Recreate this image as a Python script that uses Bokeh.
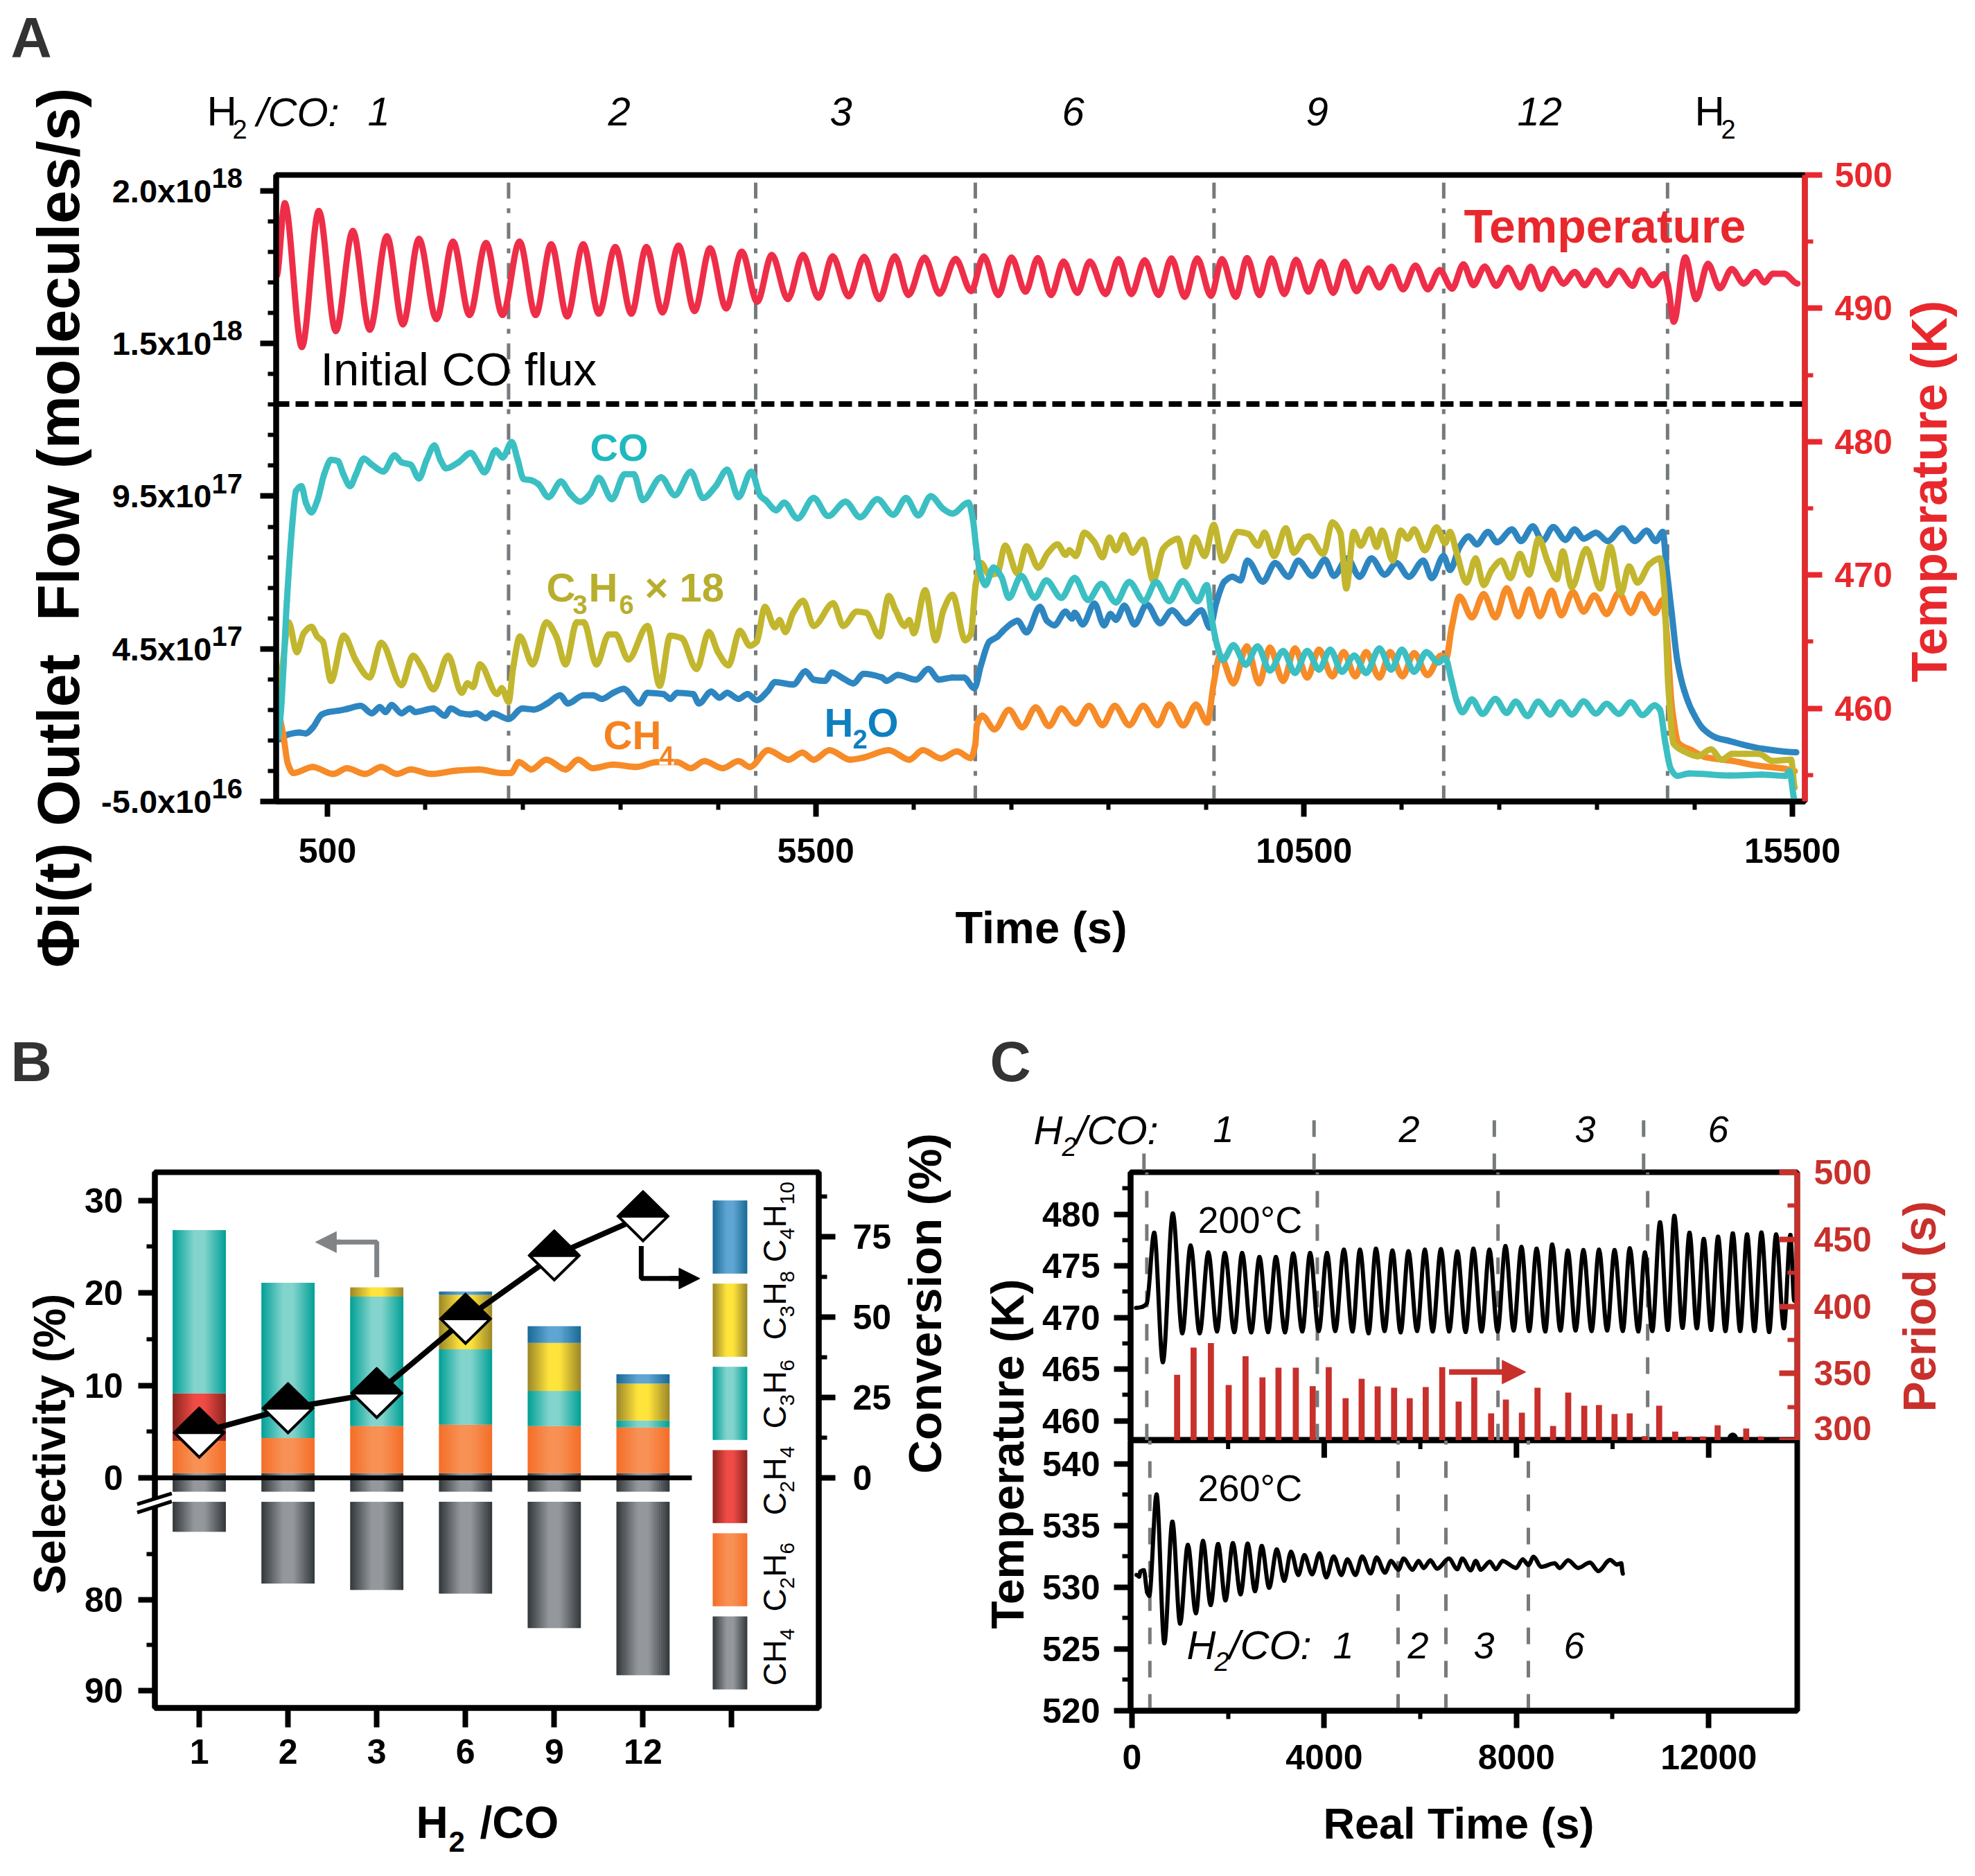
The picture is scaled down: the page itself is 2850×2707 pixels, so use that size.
import math
import numpy as np
from bokeh.embed import file_html
from bokeh.layouts import column, row
from bokeh.models import Arrow, FixedTicker, Label, LinearAxis, NormalHead, Range1d
from bokeh.plotting import figure
from bokeh.resources import INLINE

FONT = "Liberation Sans"
NARROW = "Liberation Sans Narrow, Liberation Sans"
BLACK = "#000000"
GRAY = "#767a7c"

# ---------- panel A data: time in s, temperature in K, flow in 1e17 molecules/s
temp_time = [-21,63,238,412,586,760,934,1109,1273,1437,1616,1786,1955,2124,2293,2467,2632,2791,2955,3119,3279,3448,3612,3766,3931,4095,4259,4418,4583,4742,4901,5050,5215,5369,5528,5673,5837,5996,6150,6310,6449,6613,6767,6932,7091,7220,7370,7504,7648,7774,7910,8037,8179,8306,8468,8600,8732,8868,9010,9142,9279,9406,9547,9659,9801,9917,10044,10166,10298,10419,10546,10673,10799,10916,11037,11159,11271,11397,11514,11641,11767,11889,12016,12132,12234,12350,12467,12588,12715,12821,12928,13044,13156,13272,13374,13485,13602,13723,13865,13946,14068,14185,14225,14286,14403,14514,14636,14757,14879,15001,15122,15214,15300,15416,15553]
temp_k = [492.4,497.88,487.1,497.3,488.3,495.8,488.4,495.4,488.8,495.2,489.2,495.0,489.5,494.9,489.5,495.0,489.5,494.8,489.4,494.8,489.6,494.6,489.6,494.6,489.7,494.7,489.8,494.5,490.0,494.25,490.5,494.0,490.7,494.0,490.8,493.9,490.9,493.85,490.7,493.9,491.0,493.8,491.1,493.7,491.3,493.9,491.0,493.8,491.25,493.77,491.0,493.5,491.17,493.5,491.08,493.68,491.08,493.6,491.0,493.74,490.87,493.74,490.94,493.68,490.87,493.77,491.0,493.74,491.08,493.63,491.25,493.48,491.17,493.48,491.29,492.99,491.57,493.11,491.43,493.2,491.43,492.87,491.48,493.3,491.74,493.13,491.7,493.04,491.57,493.11,491.46,492.95,491.86,492.73,491.74,492.82,491.74,492.82,491.69,492.85,491.74,492.56,491.77,489.0,493.82,490.7,493.34,491.51,492.95,491.86,492.73,491.95,492.6,492.6,491.86]

co_points = [(-9,1.6),(24,2.47),(85,6.07),(140,8.57),(178,9.67),(234,9.83),(280,9.28),(336,8.97),(397,9.36),(467,10.22),(537,10.69),(607,10.65),(663,10.22),(733,9.83),(793,10.22),(872,10.73),(956,10.53),(1073,10.31),(1189,10.84),(1259,10.61),(1353,10.53),(1437,10.08),(1516,10.69),(1595,11.16),(1656,10.69),(1716,10.41),(1842,10.61),(1968,10.92),(2038,10.61),(2108,10.28),(2224,11.0),(2294,10.77),(2388,11.27),(2448,10.69),(2509,10.06),(2588,10.02),(2658,9.9),(2765,9.47),(2891,9.98),(2984,9.59),(3087,9.32),(3194,9.59),(3278,10.1),(3413,9.4),(3544,10.22),(3637,10.22),(3730,9.37),(3917,10.12),(4057,9.53),(4220,10.3),(4346,9.44),(4476,9.83),(4593,10.37),(4709,9.47),(4840,10.3),(4933,9.51),(4989,9.36),(5096,9.04),(5175,9.29),(5315,8.77),(5478,9.44),(5628,8.85),(5805,9.32),(5954,8.81),(6131,9.4),(6294,8.89),(6425,9.44),(6551,8.87),(6677,9.5),(6807,9.08),(6900,8.93),(7064,9.29),(7110,8.73),(7139,7.92),(7183,7.0),(7237,6.59),(7319,7.16),(7401,6.86),(7478,6.17),(7604,6.89),(7741,6.17),(7861,6.74),(8015,6.17),(8151,6.82),(8288,6.1),(8425,6.63),(8573,6.02),(8710,6.69),(8863,6.06),(8984,6.69),(9120,6.06),(9257,6.72),(9410,6.06),(9504,6.59),(9558,5.42),(9613,4.58),(9668,4.13),(9777,4.62),(9903,3.98),(10024,4.58),(10150,3.79),(10286,4.43),(10407,3.71),(10533,4.43),(10653,3.82),(10768,4.47),(10888,3.75),(11014,4.28),(11135,3.71),(11272,4.51),(11392,3.82),(11502,4.47),(11627,3.75),(11753,4.39),(11874,4.05),(11945,4.2),(12011,3.45),(12065,2.77),(12120,2.42),(12219,2.84),(12328,2.37),(12459,2.86),(12575,2.4),(12667,2.77),(12788,2.3),(12897,2.77),(13023,2.35),(13122,2.75),(13242,2.35),(13363,2.78),(13488,2.38),(13598,2.7),(13724,2.37),(13845,2.75),(13965,2.33),(14091,2.65),(14145,2.5),(14200,1.4),(14255,0.57),(14321,0.34),(14447,0.42),(14857,0.35),(15186,0.38),(15432,0.34),(15470,0.49),(15525,-0.46)]

c3h6_points = [(1,2.98),(38,3.88),(103,5.37),(187,4.39),(257,5.01),(336,5.22),(397,4.9),(453,4.74),(537,3.45),(667,4.93),(793,4.11),(933,3.56),(1050,4.7),(1259,3.31),(1376,4.27),(1469,3.88),(1586,3.17),(1735,4.27),(1875,3.06),(1935,3.37),(1991,3.25),(2061,3.99),(2238,3.02),(2285,3.21),(2355,2.76),(2402,3.88),(2471,4.9),(2602,3.99),(2742,5.37),(2844,4.9),(2938,3.99),(3054,5.37),(3124,5.37),(3255,3.99),(3381,4.97),(3451,4.97),(3581,4.15),(3777,5.25),(3903,3.29),(4010,4.93),(4126,4.85),(4280,3.84),(4406,5.05),(4499,4.39),(4607,3.96),(4723,5.09),(4826,4.6),(4896,4.74),(4980,5.87),(5082,5.21),(5129,5.44),(5189,5.05),(5269,5.68),(5371,6.07),(5479,5.25),(5679,5.99),(5782,5.25),(5921,5.72),(6015,5.68),(6154,4.91),(6248,6.23),(6318,5.76),(6411,5.25),(6457,5.44),(6504,5.01),(6621,6.42),(6728,4.78),(6807,5.76),(6900,6.27),(7031,4.78),(7087,4.97),(7139,6.63),(7193,7.31),(7276,6.93),(7358,6.97),(7440,7.88),(7566,6.97),(7659,7.86),(7779,7.16),(7878,7.65),(7976,7.92),(8058,7.58),(8097,7.73),(8162,7.54),(8250,8.3),(8354,7.99),(8436,7.5),(8507,8.14),(8573,7.73),(8655,8.22),(8743,7.65),(8852,8.07),(8956,6.74),(9055,7.77),(9126,7.99),(9208,8.11),(9290,7.2),(9383,8.14),(9482,7.54),(9575,8.56),(9668,7.39),(9821,8.33),(9930,8.26),(10029,7.88),(10095,8.3),(10193,7.54),(10314,8.45),(10396,7.65),(10505,8.14),(10549,8.18),(10697,7.61),(10790,8.64),(10872,8.3),(10932,6.48),(11009,8.33),(11080,7.88),(11173,8.41),(11244,7.84),(11299,8.37),(11408,7.39),(11490,8.37),(11561,8.11),(11627,8.41),(11737,7.73),(11857,8.48),(11945,7.96),(11994,8.33),(12065,7.61),(12164,6.67),(12257,7.46),(12339,6.59),(12421,7.08),(12520,7.39),(12613,6.82),(12711,7.61),(12804,6.93),(12903,8.11),(12996,7.35),(13088,6.78),(13149,7.69),(13242,6.52),(13390,7.77),(13532,6.48),(13636,7.84),(13746,6.33),(13828,7.2),(13915,6.67),(14036,7.27),(14145,7.46),(14189,6.4),(14228,3.37),(14283,1.4),(14392,1.14),(14529,0.98),(14666,1.21),(14775,0.87),(14884,1.06),(15021,1.06),(15158,1.06),(15295,0.83),(15487,0.87),(15525,-0.04)]

h2o_points = [(1,1.53),(94,1.69),(210,1.76),(280,1.73),(350,1.92),(443,2.35),(513,2.43),(607,2.47),(700,2.53),(840,2.63),(956,2.39),(1036,2.59),(1096,2.43),(1157,2.66),(1259,2.39),(1343,2.55),(1399,2.43),(1586,2.55),(1702,2.31),(1763,2.55),(1865,2.39),(1959,2.35),(2029,2.39),(2122,2.23),(2192,2.39),(2355,2.2),(2495,2.55),(2611,2.51),(2751,2.71),(2882,2.98),(2961,2.71),(3124,2.98),(3217,2.98),(3311,2.86),(3427,3.06),(3534,3.19),(3693,2.71),(3777,3.06),(3940,3.02),(4010,2.86),(4080,3.06),(4243,3.02),(4304,2.71),(4430,3.1),(4513,2.9),(4593,3.06),(4709,2.86),(4802,3.02),(4896,2.82),(5012,3.13),(5082,3.41),(5269,3.33),(5395,3.76),(5479,3.49),(5595,3.45),(5665,3.72),(5782,3.53),(5884,3.37),(5991,3.68),(6178,3.56),(6225,3.45),(6341,3.64),(6527,3.49),(6653,3.84),(6761,3.49),(6900,3.56),(7017,3.56),(7124,3.21),(7193,3.98),(7276,4.73),(7358,4.89),(7412,5.07),(7511,5.34),(7566,5.42),(7659,5.04),(7796,5.87),(7867,5.42),(7943,5.27),(8058,5.72),(8124,5.49),(8151,5.68),(8234,5.3),(8354,5.98),(8452,5.27),(8518,5.64),(8573,5.45),(8660,5.91),(8764,5.3),(8890,5.95),(9027,5.34),(9148,5.76),(9290,5.34),(9449,5.76),(9536,5.19),(9602,6.02),(9684,6.7),(9766,6.86),(9848,6.74),(9920,7.39),(10078,6.7),(10204,7.31),(10341,6.86),(10440,7.39),(10587,6.89),(10713,7.42),(10806,6.89),(10943,7.46),(11069,6.86),(11190,7.46),(11326,6.93),(11447,7.31),(11573,6.86),(11721,7.39),(11808,6.82),(11928,7.54),(11994,7.08),(12093,7.84),(12186,8.18),(12268,7.92),(12383,8.33),(12476,7.99),(12629,8.41),(12722,8.03),(12843,8.51),(12941,8.03),(13051,8.49),(13177,8.07),(13270,8.41),(13363,8.11),(13489,8.3),(13609,8.03),(13762,8.45),(13888,8.03),(14008,8.37),(14102,8.03),(14173,8.33),(14211,7.16),(14266,5.64),(14321,4.13),(14392,3.14),(14474,2.46),(14584,1.89),(14721,1.59),(14857,1.48),(15048,1.32),(15186,1.23),(15541,1.11)]

ch4_points = [(-9,2.39),(47,1.69),(94,0.75),(150,0.43),(350,0.63),(560,0.4),(700,0.59),(886,0.4),(1050,0.63),(1213,0.4),(1353,0.55),(1562,0.4),(1819,0.51),(2052,0.55),(2285,0.43),(2378,0.43),(2462,0.79),(2588,0.55),(2742,0.87),(2938,0.55),(3068,0.87),(3217,0.59),(3427,0.71),(3660,0.63),(3870,0.79),(4080,0.79),(4220,0.59),(4360,0.82),(4546,0.59),(4709,0.82),(4826,0.63),(5012,1.18),(5222,0.87),(5362,1.1),(5479,0.87),(5642,1.18),(5851,0.87),(5991,0.94),(6248,1.18),(6457,0.87),(6597,1.18),(6784,0.91),(6947,1.14),(7087,0.92),(7134,1.37),(7150,2.0),(7204,2.31),(7330,1.86),(7478,2.5),(7615,1.93),(7752,2.58),(7889,1.97),(8015,2.55),(8162,2.05),(8299,2.63),(8436,2.0),(8562,2.63),(8710,2.0),(8852,2.63),(9000,2.0),(9120,2.67),(9263,1.99),(9394,2.67),(9509,2.08),(9575,3.37),(9640,4.28),(9777,3.37),(9914,4.58),(10040,3.37),(10150,4.54),(10286,3.45),(10407,4.51),(10533,3.56),(10653,4.47),(10790,3.6),(10905,4.39),(11025,3.6),(11135,4.39),(11272,3.56),(11381,4.39),(11507,3.6),(11627,4.36),(11764,3.64),(11901,4.28),(11956,4.2),(12011,5.19),(12093,6.21),(12219,5.53),(12339,6.29),(12459,5.53),(12575,6.48),(12695,5.57),(12804,6.44),(12914,5.57),(13034,6.4),(13133,5.6),(13253,6.36),(13363,5.72),(13472,6.25),(13598,5.64),(13724,6.33),(13845,5.68),(13954,6.29),(14091,5.68),(14173,6.1),(14217,4.89),(14266,2.61),(14337,1.4),(14474,1.17),(14611,0.95),(14884,0.83),(15131,0.68),(15432,0.57),(15525,0.49)]

a_switches = [2355, 4885, 7134, 9578, 11930, 14222]
initial_co = 1.252e18

# ---------- panel B data
ratios = ["1", "2", "3", "6", "9", "12"]
ch4_sel = [72.5, 78.2, 78.9, 79.3, 83.1, 88.3]
c2h6_sel = [4.0, 4.3, 5.6, 5.75, 5.6, 5.45]
c2h4_sel = [5.14, 0, 0, 0, 0, 0]
c3h6_sel = [17.66, 16.8, 14.0, 8.15, 3.8, 0.75]
c3h8_sel = [0, 0, 1.0, 5.9, 5.2, 4.0]
c4h10_sel = [0, 0, 0, 0.35, 1.8, 1.0]
conversion = [14, 21.6, 26.3, 49.4, 69.1, 81.3]

# ---------- panel C data
t200_time = [83,219,309,462,642,849,1048,1219,1408,1588,1769,1931,2129,2291,2481,2652,2832,2994,3184,3355,3544,3706,3886,4058,4229,4409,4589,4743,4923,5076,5256,5419,5590,5752,5932,6094,6257,6428,6599,6770,6942,7104,7275,7437,7608,7771,7942,8104,8266,8419,8600,8744,8915,9068,9230,9393,9564,9717,9888,10041,10213,10357,10537,10672,10826,10988,11150,11285,11456,11601,11754,11898,12051,12195,12349,12502,12655,12799,12952,13097,13259,13403,13565,13700,13781]
t200_k = [470.93,471.04,471.37,478.2,465.67,480.06,468.47,476.97,468.47,476.3,468.65,476.25,468.58,476.25,468.56,475.85,468.58,475.85,468.56,476.19,468.65,476.25,468.69,476.25,468.69,476.56,468.65,476.56,468.47,476.66,468.69,476.48,468.56,476.41,468.69,476.56,468.65,476.61,468.65,476.39,468.6,476.66,468.65,476.56,468.65,476.92,468.74,476.83,468.69,476.66,468.65,477.06,468.74,476.48,468.74,476.52,468.69,476.56,468.74,476.52,468.69,476.7,468.65,476.3,468.69,479.21,468.8,479.83,469.0,478.2,468.96,477.6,468.8,477.82,468.69,478.13,468.69,478.04,468.69,478.22,468.6,478.04,468.96,477.98,471.6]
period_time = [939,1282,1642,2012,2363,2715,3048,3409,3760,4094,4445,4779,5112,5454,5779,6112,6455,6797,7122,7473,7780,8113,8438,8762,9077,9411,9717,10041,10357,10672,10970,11303,11592,11880,12186,12781,13088]
period_s = [349,369.3,372.6,341.3,362.8,347,354.2,354.2,340.5,354.7,331.5,346,340.3,339.3,331.5,339.8,354.7,329,347,320.2,330.5,320.7,339.3,310.8,335.7,325.9,326.4,319.7,320.2,303.2,325.9,306.6,303,303,311.3,308.9,303]
t260_time = [93,149,176,246,316,358,512,673,841,1001,1162,1330,1477,1637,1791,1945,2099,2260,2406,2560,2700,2854,3014,3168,3308,3462,3588,3748,3902,4042,4196,4357,4482,4650,4790,4965,5090,5265,5391,5545,5650,5838,5964,6069,6209,6349,6594,6768,6873,7048,7153,7258,7446,7572,7712,7991,8131,8250,8355,8516,8795,8900,9075,9284,9529,9704,9949,10089,10180,10214]
t260_k = [531.0,530.87,531.28,531.38,529.59,529.31,537.52,525.46,535.32,527.06,533.44,527.9,533.76,528.56,533.5,528.94,533.57,529.44,533.54,529.69,533.35,529.97,533.07,530.53,532.88,531.0,532.6,531.06,532.75,530.81,532.5,531.0,532.26,531.0,532.5,531.13,532.41,531.19,532.13,531.43,532.32,531.43,532.13,531.57,532.18,531.51,532.32,531.47,532.32,531.38,532.13,531.43,532.07,531.47,532.13,531.57,532.26,531.81,532.47,531.66,531.94,531.57,532.18,531.57,532.0,531.32,532.22,531.85,531.94,531.1]
c_switches_200 = [308, 3856, 7616, 10730]
c_switches_260 = [372, 5537, 6532, 8248]

PAGE_W, PAGE_H = 2840, 2699

# transparent sheet over the whole page: text outside a frame gets cut in a normal figure,
# here the frame is the whole page
sheet = figure(output_backend="svg", toolbar_location=None, width=PAGE_W, height=PAGE_H, min_border=0,
               x_range=Range1d(0, PAGE_W), y_range=Range1d(PAGE_H, 0), x_axis_type=None, y_axis_type=None,
               background_fill_color=None, border_fill_color=None, outline_line_color=None, frame_align=False,
               styles={"position": "absolute", "left": "0px", "top": "0px"})
sheet.grid.visible = False


def note(x, y, text, size, color=BLACK, style="normal", angle=0, bg=None, font=FONT):
    # x, y are page pixels of the text baseline start
    shift = 0.38 * size
    if angle:
        x -= shift
    else:
        y -= shift
    sheet.add_layout(Label(x=x, y=y, x_units="canvas", y_units="canvas", text=text,
                           text_font=font, text_font_size=f"{size}px", text_font_style=style, text_color=color,
                           angle=angle, text_align="left", text_baseline="alphabetic",
                           background_fill_color=bg))


def style_axis(ax, size=50, color=BLACK, major=24, minor=12, standoff=20, width=8):
    ax.axis_line_width = width
    ax.axis_line_color = color
    ax.major_tick_line_color = color
    ax.minor_tick_line_color = color
    ax.major_tick_line_width = width
    ax.minor_tick_line_width = 6
    ax.major_tick_out = major
    ax.major_tick_in = 0
    ax.minor_tick_out = minor
    ax.minor_tick_in = 0
    ax.major_label_text_font = FONT
    ax.major_label_text_font_style = "bold"
    ax.major_label_text_font_size = f"{size}px"
    ax.major_label_text_color = color
    ax.major_label_standoff = standoff


def base_fig(l, t, w, h, r, b, x_range, y_range):
    p = figure(output_backend="svg", toolbar_location=None, frame_width=w, frame_height=h,
               min_border_left=l, min_border_top=t, min_border_right=r, min_border_bottom=b,
               x_range=x_range, y_range=y_range, background_fill_color="white", frame_align=False)
    p.grid.visible = False
    p.outline_line_color = BLACK
    p.outline_line_width = 8
    return p


def smooth(p, xs, ys, color, width, **kw):
    # draw the read points as one curve: flat at peaks and troughs, curved control points between
    x = np.asarray(xs, dtype=float)
    y = np.asarray(ys, dtype=float)
    h = np.diff(x)
    d = np.diff(y) / h
    m = np.zeros(len(x))
    for i in range(1, len(x) - 1):
        if d[i - 1] * d[i] > 0:
            m[i] = 2 * d[i - 1] * d[i] / (d[i - 1] + d[i])
    p.bezier(x0=x[:-1], y0=y[:-1], x1=x[1:], y1=y[1:],
             cx0=x[:-1] + h / 3, cy0=y[:-1] + m[:-1] * h / 3,
             cx1=x[1:] - h / 3, cy1=y[1:] - m[1:] * h / 3,
             line_color=color, line_width=width, line_cap="round", **kw)


def flow_line(p, points, color):
    times, flows = zip(*points)
    smooth(p, times, np.array(flows) * 1e17, color, 9)


# ================= panel A
A_TOP = 2.002e18
pa = base_fig(398, 252, 2206, 904, 229, 302, Range1d(-25, 15628), Range1d(-5e16, A_TOP))
pa.extra_y_ranges = {"temp": Range1d(453.02, 500)}

xa = pa.xaxis[0]
style_axis(xa, standoff=31, major=22)
xa.ticker = FixedTicker(ticks=[500, 5500, 10500, 15500],
                        minor_ticks=[v for v in range(1500, 15500, 1000) if (v - 500) % 5000])
ya = pa.yaxis[0]
style_axis(ya, size=47, standoff=70, major=23)
# the printed tick labels are rounded: the ticks are evenly spaced, 5e17 apart
a_ticks = [-5e16, 4.5e17, 9.5e17, 1.45e18, 1.95e18]
a_main = ["-5.0x10", "4.5x10", "9.5x10", "1.5x10", "2.0x10"]
a_exp = ["16", "17", "17", "18", "18"]
ya.ticker = FixedTicker(ticks=a_ticks, minor_ticks=[v * 1e17 - 5e16 for v in range(1, 21)])
ya.major_label_overrides = dict(zip(a_ticks, a_main))
ra = LinearAxis(y_range_name="temp")
style_axis(ra, color="#E8282D", standoff=18, major=25)
ra.ticker = FixedTicker(ticks=[460, 470, 480, 490, 500], minor_ticks=[455, 465, 475, 485, 495])
pa.add_layout(ra, "right")

for v in a_switches:
    pa.line([v, v], [-5e16, A_TOP], line_color=GRAY, line_width=5, line_dash=[23, 14, 7, 14])
pa.line([-25, 15628], [initial_co, initial_co], line_color=BLACK, line_width=8, line_dash=[19, 9])
flow_line(pa, h2o_points, "#2E86C1")
flow_line(pa, ch4_points, "#F68B28")
flow_line(pa, c3h6_points, "#C2B62E")
flow_line(pa, co_points, "#3BBFC2")
smooth(pa, temp_time, temp_k, "#EE2E48", 9, y_range_name="temp")

for tick_y, ex in zip([1156, 936, 716, 495, 275], a_exp):
    note(305, tick_y - 3, ex, 40, style="bold")

note(15, 84, "A", 82, color="#333333", style="bold", font=NARROW)
note(298, 183, "H", 60)
note(335, 200, "2", 38)
note(370, 183, "/CO:", 58, style="italic")
note(530, 183, "1", 58, style="italic")
for xx, s in [(877, "2"), (1197, "3"), (1532, "6"), (1884, "9"), (2189, "12")]:
    note(xx, 183, s, 58, style="italic")
note(2445, 183, "H", 60)
note(2483, 200, "2", 38)
note(462, 557, "Initial CO flux", 67)
note(2112, 351, "Temperature", 68, color="#E8282D", style="bold")
note(851, 666, "CO", 56, color="#1FB9BE", style="bold")
OLIVE = "#B8AE2E"
note(788, 869, "C", 58, color=OLIVE, style="bold")
note(826, 886, "3", 38, color=OLIVE, style="bold")
note(849, 869, "H", 58, color=OLIVE, style="bold")
note(893, 886, "6", 38, color=OLIVE, style="bold")
note(930, 869, "\u00d7 18", 58, color=OLIVE, style="bold")
note(1189, 1064, "H", 58, color="#0E7FC0", style="bold")
note(1230, 1080, "2", 38, color="#0E7FC0", style="bold", bg="white")
note(1251, 1064, "O", 58, color="#0E7FC0", style="bold")
note(870, 1082, "CH", 58, color="#F5821F", style="bold")
note(951, 1104, "4", 38, color="#F5821F", style="bold", bg="white")
note(1378, 1363, "Time (s)", 65, style="bold")
note(116, 1396, "\u03a6i(t) Outlet\u00a0\u00a0Flow (molecules/s)", 86, style="bold", angle=math.pi / 2)
note(2811, 984, "Temperature (K)", 72, color="#E8282D", style="bold", angle=math.pi / 2)

# ================= panel B
UP = 13.34   # px per selectivity unit above the break
LOW = 13.1   # px per selectivity unit below the break
pb = base_fig(223, 233, 958, 773, 310, 235, Range1d(-0.5, 6.98), Range1d(-24.9, 33.06))
pb.extra_y_ranges = {"low": Range1d(91.9, 32.9), "conv": Range1d(-71.6, 95)}


def low_on_up(v):
    return (2132 - (2308 + (v - 80) * LOW)) / UP


xb = pb.xaxis[0]
style_axis(xb, standoff=7, major=28)
xb.ticker = FixedTicker(ticks=list(range(8)))
xb.major_label_overrides = {i: (ratios[i] if i < 6 else " ") for i in range(8)}
yb = pb.yaxis[0]
style_axis(yb, standoff=22, major=24)
b_major = [0, 10, 20, 30, low_on_up(80), low_on_up(90)]
yb.ticker = FixedTicker(ticks=b_major, minor_ticks=[5, 15, 25, low_on_up(75), low_on_up(85)])
yb.major_label_overrides = {low_on_up(80): "80", low_on_up(90): "90"}
rb = LinearAxis(y_range_name="conv")
style_axis(rb, standoff=25, major=24)
rb.ticker = FixedTicker(ticks=[0, 25, 50, 75], minor_ticks=[12.5, 37.5, 62.5, 87.5])
pb.add_layout(rb, "right")

# edge / centre colours of the shaded bars
shades = {"ch4": ((50, 55, 58), (148, 152, 156)), "c2h6": ((245, 110, 40), (248, 145, 85)),
          "c2h4": ((140, 35, 30), (240, 75, 70)), "c3h6": ((0, 160, 150), (130, 212, 205)),
          "c3h8": ((155, 135, 40), (255, 228, 60)), "c4h10": ((25, 105, 150), (95, 165, 210))}
STRIPS = 25


def shaded_bar(p, x, w, y0, y1, name, **kw):
    edge, mid = shades[name]
    lefts, rights, cols = [], [], []
    for i in range(STRIPS):
        f = min(1.0, (min(i, STRIPS - 1 - i) + 0.5) / (STRIPS * 0.4))
        cols.append("#%02x%02x%02x" % tuple(int(e + (m - e) * f) for e, m in zip(edge, mid)))
        lefts.append(x - w / 2 + w * i / STRIPS)
        rights.append(x - w / 2 + w * (i + 1.3) / STRIPS if i < STRIPS - 1 else x + w / 2)
    p.quad(left=lefts, right=rights, bottom=y0, top=y1, fill_color=cols, line_color=None, **kw)


for i in range(6):
    base = 0.5
    shaded_bar(pb, i, 0.6, -1.5, base, "ch4")
    shaded_bar(pb, i, 0.6, 69.2, ch4_sel[i], "ch4", y_range_name="low")
    lev = 0
    for name, vals in [("c2h6", c2h6_sel), ("c2h4", c2h4_sel), ("c3h6", c3h6_sel),
                       ("c3h8", c3h8_sel), ("c4h10", c4h10_sel)]:
        if vals[i] > 0:
            shaded_bar(pb, i, 0.6, max(lev, base), lev + vals[i], name)
            lev += vals[i]

legend_names = ["c4h10", "c3h8", "c3h6", "c2h4", "c2h6", "ch4"]
legend_tops = [30, 21, 12, 3, -6, -15]
for nm, top in zip(legend_names, legend_tops):
    shaded_bar(pb, 5.98, 0.39, top - 7.9, top, nm)

pb.line([-0.5, 5.55], [0, 0], line_color=BLACK, line_width=7)
xs_idx = list(range(6))
pb.line(xs_idx, conversion, y_range_name="conv", line_color=BLACK, line_width=8)
DX, DY = 0.28, 7.6
for i, c in zip(xs_idx, conversion):
    pb.patch([i - DX, i, i + DX, i], [c, c + DY, c, c - DY], y_range_name="conv", fill_color="white",
             line_color=BLACK, line_width=4, line_join="miter")
    pb.patch([i - DX, i, i + DX], [c, c + DY, c], y_range_name="conv", fill_color=BLACK, line_color=BLACK,
             line_width=4)

pb.line([2.0, 2.0, 1.45], [21.7, 25.5, 25.5], line_color="#808486", line_width=7)
pb.add_layout(Arrow(end=NormalHead(size=30, fill_color="#808486", line_color="#808486"), x_start=1.6, y_start=25.5,
                    x_end=1.31, y_end=25.5, line_color="#808486", line_width=7))
pb.line([4.98, 4.98, 5.5], [25.07, 21.56, 21.56], line_color=BLACK, line_width=7)
pb.add_layout(Arrow(end=NormalHead(size=30, fill_color=BLACK, line_color=BLACK), x_start=5.3, y_start=21.56,
                    x_end=5.64, y_end=21.56, line_color=BLACK, line_width=7))
# axis break marks on the left edge, in page pixels on the sheet
sheet.line([198, 248], [2176, 2160.5], line_color="white", line_width=11)
sheet.line([198, 248], [2170, 2154.5], line_color=BLACK, line_width=5)
sheet.line([198, 248], [2182, 2166], line_color=BLACK, line_width=5)

note(15, 1562, "B", 82, color="#333333", style="bold", font=NARROW)
note(96, 2300, "Selectivity (%)", 64, style="bold", angle=math.pi / 2)
note(1359, 2126, "Conversion (%)", 67, style="bold", angle=math.pi / 2)
note(600, 2654, "H", 64, style="bold")
note(647, 2673, "2", 42, style="bold")
note(692, 2654, "/CO", 64, style="bold")


def chem(y, parts):
    for s, sub in parts:
        size, xb_ = (30, 1147) if sub else (46, 1135)
        note(xb_, y, s, size, angle=math.pi / 2)
        y -= (len(s) * 17) if sub else 33


chem(1821, [("C", 0), ("4", 1), ("H", 0), ("10", 1)])
chem(1933, [("C", 0), ("3", 1), ("H", 0), ("8", 1)])
chem(2061, [("C", 0), ("3", 1), ("H", 0), ("6", 1)])
chem(2186, [("C", 0), ("2", 1), ("H", 0), ("4", 1)])
chem(2325, [("C", 0), ("2", 1), ("H", 0), ("6", 1)])
chem(2432, [("C", 0), ("H", 0), ("4", 1)])

# ================= panel C
RED = "#C8302C"
C_X = (-29, 13843)
pc1 = base_fig(140, 233, 962, 387, 240, 0, Range1d(*C_X), Range1d(458.09, 484.06))
pc1.extra_y_ranges = {"period": Range1d(300, 500)}
pc1.xaxis.visible = False
y1 = pc1.yaxis[0]
style_axis(y1, standoff=20, major=24)
y1.ticker = FixedTicker(ticks=[460, 465, 470, 475, 480], minor_ticks=[462.5, 467.5, 472.5, 477.5, 482.5])
rc = LinearAxis(y_range_name="period")
style_axis(rc, color=RED, standoff=24)
rc.major_tick_out = 0
rc.minor_tick_out = 0
rc.major_tick_in = 26
rc.minor_tick_in = 14
rc.ticker = FixedTicker(ticks=[300, 350, 400, 450, 500], minor_ticks=[325, 375, 425, 475])
pc1.add_layout(rc, "right")

for v in c_switches_200:
    pc1.line([v, v], [458.09, 484.06], line_color=GRAY, line_width=5, line_dash=[24, 24])
pc1.vbar(x=period_time, width=126, bottom=300, top=period_s, y_range_name="period", fill_color=RED, line_color=None)
pc1.scatter([12500], [302], y_range_name="period", size=14, color=BLACK)
smooth(pc1, t200_time, t200_k, BLACK, 6)
pc1.add_layout(Arrow(end=NormalHead(size=34, fill_color=RED, line_color=RED), x_start=6599, y_start=351, x_end=8194,
                     y_end=351, y_range_name="period", line_color=RED, line_width=8))
# the switch marks carry on above the frame
for v, top_px in zip(c_switches_200, [1664, 1601, 1601, 1601]):
    sx = 1633 + v * 277.4 / 4000
    sheet.line([sx, sx], [1688, top_px], line_color=GRAY, line_width=5, line_dash=[24, 24])

note(1428, 1562, "C", 82, color="#333333", style="bold", font=NARROW)
note(1491, 1652, "H", 58, style="italic")
note(1532, 1668, "2", 38, style="italic")
note(1552, 1652, "/CO:", 58, style="italic")
for xx, s in [(1750, "1"), (2018, "2"), (2272, "3"), (2464, "6")]:
    note(xx, 1650, s, 54, style="italic")
note(1728, 1780, "200\u00b0C", 54)
note(2795, 2037, "Period (s)", 66, color=RED, style="bold", angle=math.pi / 2)

pc2 = base_fig(140, 0, 962, 390, 240, 231, Range1d(*C_X), Range1d(520, 541.9))
xc = pc2.xaxis[0]
style_axis(xc, standoff=24, major=25)
xc.ticker = FixedTicker(ticks=[0, 4000, 8000, 12000], minor_ticks=[2000, 6000, 10000])
y2 = pc2.yaxis[0]
style_axis(y2, standoff=20, major=24)
y2.ticker = FixedTicker(ticks=[520, 525, 530, 535, 540], minor_ticks=[522.5, 527.5, 532.5, 537.5])

# short ticks hanging from the shared line between the two panels
pc2.segment(x0=[4000, 8000, 12000], x1=[4000, 8000, 12000], y0=541.9, y1=540.5, line_color=BLACK, line_width=8)
pc2.segment(x0=[2000, 6000, 10000], x1=[2000, 6000, 10000], y0=541.9, y1=541.2, line_color=BLACK, line_width=6)
for v in c_switches_260:
    pc2.line([v, v], [520, 541.9], line_color=GRAY, line_width=5, line_dash=[24, 24])
smooth(pc2, t260_time, t260_k, BLACK, 6)

note(1728, 2167, "260\u00b0C", 54)
note(1712, 2395, "H", 58, style="italic")
note(1752, 2411, "2", 38, style="italic")
note(1773, 2395, "/CO:", 58, style="italic")
for xx, s in [(1923, "1"), (2031, "2"), (2126, "3"), (2256, "6")]:
    note(xx, 2395, s, 54, style="italic")
note(1479, 2350, "Temperature (K)", 66, style="bold", angle=math.pi / 2)
note(1909, 2654, "Real Time (s)", 63, style="bold")

page = column(pa, row(pb, column(pc1, pc2, spacing=0), spacing=0), sheet, spacing=0)
open("out.html", "w").write(file_html(page, INLINE))
